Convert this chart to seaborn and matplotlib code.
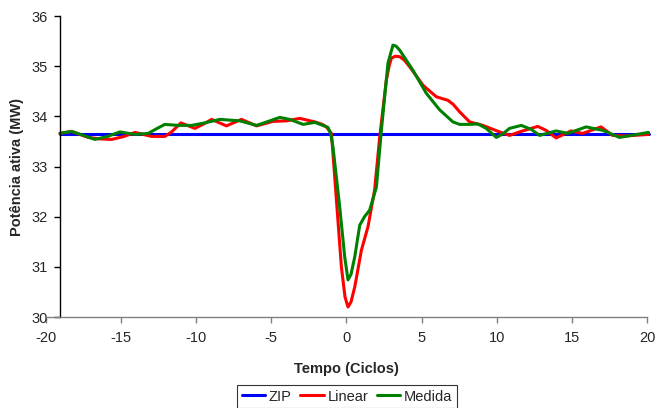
import matplotlib
matplotlib.use("Agg")
import matplotlib.pyplot as plt
import seaborn as sns
import pandas as pd
import numpy as np

# ---- data ----
zip_x = [-19.07, 20.1]
zip_y = [33.645, 33.645]

linear_x = [-19.07, -18.3, -17.19, -16.4, -15.63, -14.8, -14.08, -12.97, -12.09, -11.64,
            -11.02, -10.09, -9.43, -8.98, -7.99, -6.99, -5.99, -4.89, -4.0, -3.11,
            -2.11, -1.6, -1.34, -1.0, -0.67, -0.34, -0.1, 0.1, 0.3, 0.55,
            0.99, 1.43, 1.87, 2.21, 2.65, 2.85, 2.99, 3.25, 3.54, 3.85,
            4.2, 5.09, 5.98, 6.75, 7.1, 7.53, 8.19, 9.08, 10.19, 10.85,
            11.52, 12.73, 13.29, 13.95, 14.95, 15.72, 16.94, 17.71, 18.6, 20.1]
linear_y = [33.66, 33.70, 33.58, 33.55, 33.54, 33.60, 33.68, 33.60, 33.60, 33.69,
            33.87, 33.76, 33.86, 33.94, 33.81, 33.94, 33.81, 33.90, 33.91, 33.96,
            33.89, 33.84, 33.79, 33.66, 32.33, 31.0, 30.4, 30.2, 30.3, 30.60,
            31.33, 31.80, 32.53, 33.59, 34.72, 35.02, 35.16, 35.20, 35.19, 35.12,
            34.99, 34.62, 34.39, 34.32, 34.24, 34.09, 33.89, 33.82, 33.69, 33.62,
            33.69, 33.80, 33.72, 33.57, 33.71, 33.66, 33.79, 33.62, 33.61, 33.64]

medida_x = [-19.07, -18.3, -17.5, -16.74, -15.9, -15.08, -14.08, -13.2, -12.6, -12.09,
            -11.2, -10.3, -9.43, -8.43, -7.1, -5.99, -5.2, -4.44, -3.78, -2.89,
            -2.1, -1.23, -1.05, -0.9, -0.45, -0.12, 0.1, 0.3, 0.55, 0.88,
            1.2, 1.54, 1.99, 2.32, 2.76, 3.09, 3.3, 3.54, 4.42, 5.31,
            6.2, 7.08, 7.53, 8.2, 8.74, 9.3, 9.97, 10.4, 10.85, 11.63,
            12.3, 12.85, 13.95, 14.73, 15.95, 17.06, 18.17, 20.1]
medida_y = [33.66, 33.70, 33.62, 33.54, 33.60, 33.69, 33.64, 33.66, 33.76, 33.84,
            33.82, 33.82, 33.87, 33.94, 33.91, 33.82, 33.90, 33.98, 33.94, 33.84,
            33.88, 33.78, 33.65, 33.39, 32.19, 31.2, 30.74, 30.85, 31.2, 31.83,
            32.0, 32.13, 32.59, 33.72, 35.06, 35.42, 35.40, 35.32, 34.92, 34.46,
            34.13, 33.89, 33.84, 33.84, 33.85, 33.76, 33.58, 33.65, 33.76, 33.82,
            33.74, 33.62, 33.71, 33.66, 33.79, 33.72, 33.58, 33.68]

series = ["ZIP", "Linear", "Medida"]
colors = {"ZIP": "#0000FF", "Linear": "#FF0000", "Medida": "#008000"}
x_ticks = [-20, -15, -10, -5, 0, 5, 10, 15, 20]
y_ticks = [30, 31, 32, 33, 34, 35, 36]

df = pd.concat([
    pd.DataFrame({"Tempo": zip_x, "Potencia": zip_y, "Serie": "ZIP"}),
    pd.DataFrame({"Tempo": linear_x, "Potencia": linear_y, "Serie": "Linear"}),
    pd.DataFrame({"Tempo": medida_x, "Potencia": medida_y, "Serie": "Medida"}),
], ignore_index=True)

sns.set_style("white")
plt.rcParams["font.family"] = ["Liberation Sans", "DejaVu Sans"]

fig = plt.figure(figsize=(6.56, 4.08), dpi=100)
ax = fig.add_axes([0.0701, 0.223, 0.9162, 0.7377])

sns.lineplot(data=df, x="Tempo", y="Potencia", hue="Serie", hue_order=series,
             palette=colors, estimator=None, sort=False, linewidth=2.2, ax=ax,
             legend=False)
for ln in ax.lines:
    ln.set_clip_on(False)
    ln.set_solid_joinstyle("round")

ax.set_xlim(-20, 20)
ax.set_ylim(30, 36)
ax.set_xticks(x_ticks)
ax.set_yticks(y_ticks)
ax.set_xticklabels([str(t) for t in x_ticks])
ax.set_yticklabels([str(t) for t in y_ticks])

ax.spines["top"].set_visible(False)
ax.spines["right"].set_visible(False)
ax.spines["left"].set_position(("data", -19.07))
ax.spines["left"].set_color("black")
ax.spines["left"].set_linewidth(1.0)
ax.spines["bottom"].set_color("#808080")
ax.spines["bottom"].set_linewidth(1.0)

ax.tick_params(axis="x", direction="out", length=4, width=1, color="#808080",
               labelsize=10.5, pad=6, bottom=True)
ax.tick_params(axis="y", direction="out", length=4, width=1, color="black",
               labelsize=10.5, pad=5, left=True)

ax.set_xlabel("Tempo (Ciclos)", fontsize=10.5, fontweight="bold", labelpad=12)
ax.set_ylabel("Potência ativa (MW)", fontsize=10.5, fontweight="bold", labelpad=5)
ax.grid(False)

handles = [plt.Line2D([], [], color=colors[s], lw=2.2) for s in series]
leg = fig.legend(handles, series, loc="upper center", bbox_to_anchor=(0.529, 0.056),
                 ncol=3, frameon=True, fancybox=False, edgecolor="black",
                 fontsize=10.5, handlelength=1.6, handletextpad=0.25,
                 columnspacing=0.6, borderpad=0.3, borderaxespad=0)
leg.get_frame().set_linewidth(0.8)

fig.savefig("out.png", dpi=100)
